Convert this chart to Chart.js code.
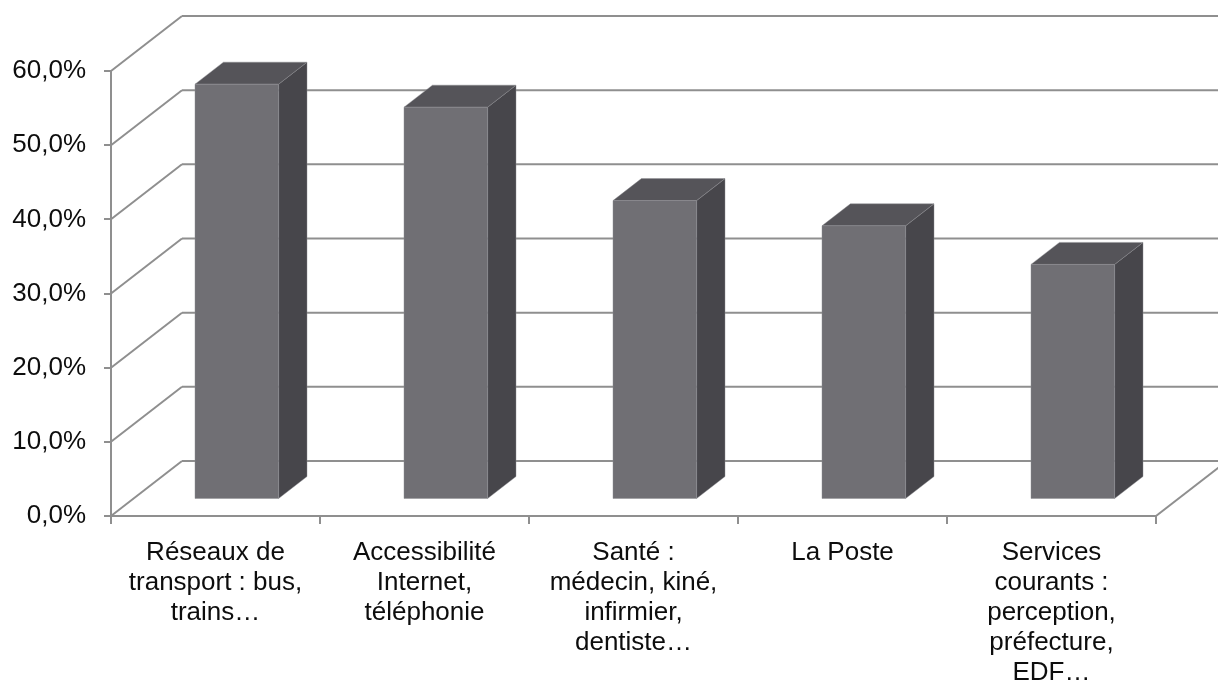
<!DOCTYPE html>
<html lang="fr">
<head>
<meta charset="utf-8">
<title>Services de proximité</title>
<script src="https://cdn.jsdelivr.net/npm/chart.js@4.4.1/dist/chart.umd.min.js"></script>
<style>
  html, body { margin: 0; padding: 0; background: #fff; }
  #wrap { width: 1218px; height: 682px; }
</style>
</head>
<body>
<div id="wrap"><canvas id="chart" width="1218" height="682"></canvas></div>
<script>
// ==============================
// DATA
// ==============================
const categories = [
  ["Réseaux de", "transport : bus,", "trains…"],
  ["Accessibilité", "Internet,", "téléphonie"],
  ["Santé :", "médecin, kiné,", "infirmier,", "dentiste…"],
  ["La Poste"],
  ["Services", "courants :", "perception,", "préfecture,", "EDF…"]
];
const values = [56.0, 52.9, 40.3, 36.9, 31.7];
const yTicks = [0, 10, 20, 30, 40, 50, 60];

// ==============================
// 3D LOOK
// ==============================
const GRID   = "#8f8f8f";
const FRONT  = "#706f74";
const TOP    = "#555459";
const SIDE   = "#47464b";
const DX     = 71;    // full floor depth, x
const DY     = -55;   // full floor depth, y
const Z_FRONT = 0.3;  // where the bar front sits in the depth
const Z_DEPTH = 0.4;  // bar thickness in the depth
const LINE_W = 2;

function seg(ctx, x1, y1, x2, y2) {
  ctx.beginPath();
  ctx.moveTo(x1, y1);
  ctx.lineTo(x2, y2);
  ctx.stroke();
}

function poly(ctx, pts, fill) {
  ctx.beginPath();
  ctx.moveTo(pts[0][0], pts[0][1]);
  pts.slice(1).forEach(p => ctx.lineTo(p[0], p[1]));
  ctx.closePath();
  ctx.fillStyle = fill;
  ctx.fill();
  ctx.strokeStyle = "rgba(140,140,145,0.55)";
  ctx.lineWidth = 0.8;
  ctx.stroke();
}

const box3d = {
  id: "box3d",
  beforeDatasetsDraw(chart) {
    const { ctx, chartArea: a, scales: { y } } = chart;
    ctx.save();
    ctx.strokeStyle = GRID;
    ctx.lineWidth = LINE_W;
    yTicks.forEach(v => {
      const py = y.getPixelForValue(v);
      seg(ctx, a.left, py, a.left + DX, py + DY);
      seg(ctx, a.left + DX, py + DY, a.right + DX + 20, py + DY);
    });
    seg(ctx, a.right, a.bottom, a.right + DX, a.bottom + DY);
    ctx.restore();
  },
  afterDatasetsDraw(chart) {
    const { ctx } = chart;
    const meta = chart.getDatasetMeta(0);
    const fx = DX * Z_FRONT, fy = DY * Z_FRONT;
    const dx = DX * Z_DEPTH, dy = DY * Z_DEPTH;
    ctx.save();
    meta.data.forEach(bar => {
      const p = bar.getProps(["x", "y", "base", "width"], true);
      const l = p.x - p.width / 2 + fx;
      const r = p.x + p.width / 2 + fx;
      const t = p.y + fy;
      const b = p.base + fy;
      poly(ctx, [[r, t], [r + dx, t + dy], [r + dx, b + dy], [r, b]], SIDE);
      poly(ctx, [[l, t], [l + dx, t + dy], [r + dx, t + dy], [r, t]], TOP);
      poly(ctx, [[l, t], [r, t], [r, b], [l, b]], FRONT);
    });
    ctx.restore();
  }
};

// ==============================
// CHART
// ==============================
const FONT = { family: "'Liberation Sans', Arial, sans-serif", size: 26, lineHeight: 1.15 };

new Chart(document.getElementById("chart"), {
  type: "bar",
  data: {
    labels: categories,
    datasets: [{
      data: values,
      backgroundColor: "rgba(0,0,0,0)",
      barPercentage: 0.4,
      categoryPercentage: 1.0
    }]
  },
  options: {
    responsive: false,
    animation: false,
    layout: { padding: { top: 71, right: 62, bottom: 0, left: 0 } },
    plugins: { legend: { display: false }, tooltip: { enabled: false } },
    scales: {
      y: {
        min: 0,
        max: 60,
        afterFit: s => { s.width = 111; },
        afterBuildTicks: s => { s.ticks = yTicks.map(v => ({ value: v })); },
        ticks: {
          padding: 18,
          color: "#0d0d0d",
          font: FONT,
          callback: v => v.toFixed(1).replace(".", ",") + "%"
        },
        grid: { drawOnChartArea: false, tickLength: 7, color: GRID, lineWidth: LINE_W },
        border: { color: GRID, width: LINE_W }
      },
      x: {
        afterFit: s => { s.height = 166; },
        ticks: {
          padding: 14,
          color: "#0d0d0d",
          font: FONT,
          maxRotation: 0,
          autoSkip: false
        },
        grid: { offset: true, drawOnChartArea: false, tickLength: 8, color: GRID, lineWidth: LINE_W },
        border: { color: GRID, width: LINE_W }
      }
    }
  },
  plugins: [box3d]
});
</script>
</body>
</html>
